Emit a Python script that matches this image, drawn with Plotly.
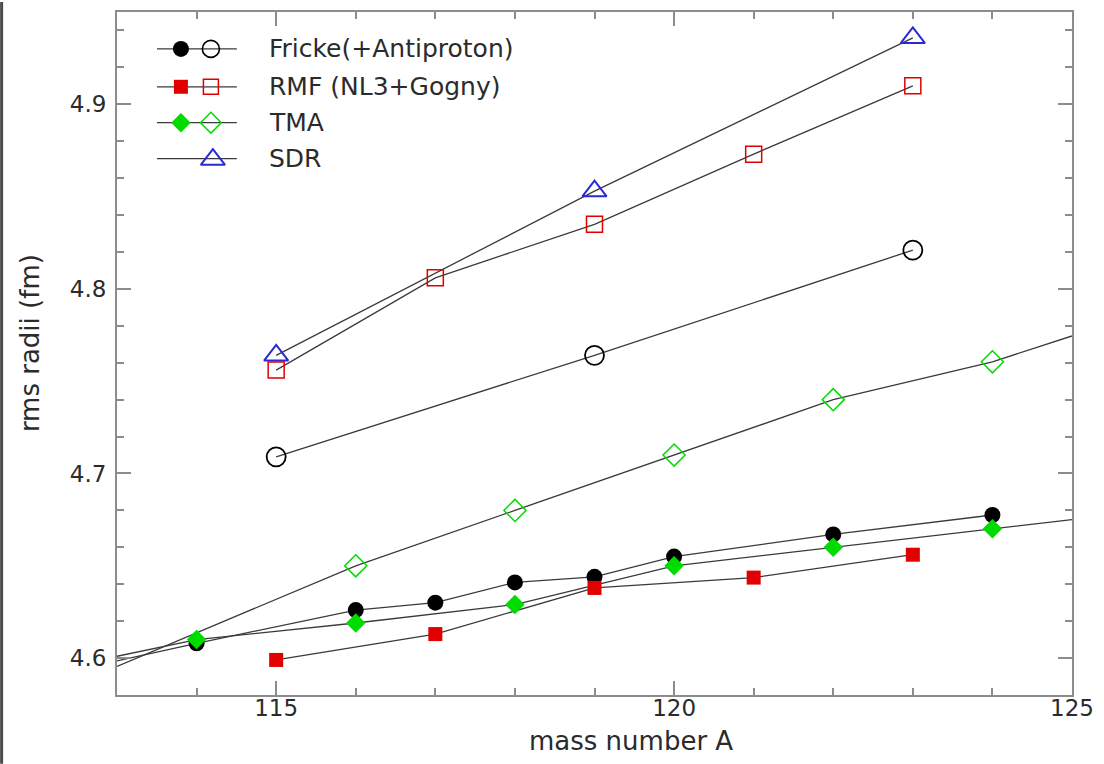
import plotly.graph_objects as go

# ---------------- data ----------------
# experimental radii (filled symbols)
A_fricke_exp = [114, 116, 117, 118, 119, 120, 122, 124]
r_fricke_exp = [4.608, 4.626, 4.630, 4.641, 4.644, 4.655, 4.667, 4.6775]

A_rmf_exp = [115, 117, 119, 121, 123]
r_rmf_exp = [4.599, 4.613, 4.638, 4.6436, 4.656]

A_tma_exp = [114, 116, 118, 120, 122, 124]
r_tma_exp = [4.610, 4.619, 4.629, 4.650, 4.660, 4.670]

# theoretical radii (open symbols)
A_fricke_th = [115, 119, 123]
r_fricke_th = [4.709, 4.764, 4.821]

A_rmf_th = [115, 117, 119, 121, 123]
r_rmf_th = [4.756, 4.806, 4.835, 4.873, 4.910]

A_tma_th = [116, 118, 120, 122, 124]
r_tma_th = [4.650, 4.680, 4.710, 4.740, 4.7605]

A_sdr = [115, 119, 123]
r_sdr = [4.764, 4.853, 4.936]

# where some connecting lines leave the frame (read at the axis edges)
A_left_edge = 113
A_right_edge = 125
r_fricke_exp_left = 4.5985
r_tma_exp_left = 4.601
r_tma_exp_right = 4.675
r_tma_th_left = 4.5955
r_tma_th_right = 4.7745

legend_labels = ["Fricke(+Antiproton)", "RMF (NL3+Gogny)", "TMA", "SDR"]
x_ticks = [115, 120, 125]
y_ticks = [4.6, 4.7, 4.8, 4.9]

# ---------------- styling ----------------
FONT = "DejaVu Sans"
TXT = "#2b2b2b"
LINE = "#3a3a3a"
AXC = "#8c8c8c"
BLACK = "#000000"
RED = "#e00000"
GREEN = "#00dc00"
BLUE = "#2a2ad2"

W, H = 1104, 764
ML, MR, MT, MB = 117, 31, 10, 69
PW, PH = W - ML - MR, H - MT - MB

fig = go.Figure()

def line_trace(x, y):
    fig.add_trace(go.Scatter(x=x, y=y, mode="lines", line=dict(color=LINE, width=1.3),
                             showlegend=False, hoverinfo="skip"))

# connecting lines
line_trace(A_fricke_th, r_fricke_th)
line_trace(A_rmf_th, r_rmf_th)
line_trace(A_sdr, r_sdr)
line_trace([A_left_edge] + A_tma_th + [A_right_edge], [r_tma_th_left] + r_tma_th + [r_tma_th_right])
line_trace([A_left_edge] + A_fricke_exp, [r_fricke_exp_left] + r_fricke_exp)
line_trace(A_rmf_exp, r_rmf_exp)
line_trace([A_left_edge] + A_tma_exp + [A_right_edge], [r_tma_exp_left] + r_tma_exp + [r_tma_exp_right])

def mk(x, y, symbol, color, size, lw=0, xa="x", ya="y"):
    fig.add_trace(go.Scatter(x=x, y=y, mode="markers", xaxis=xa, yaxis=ya,
                             marker=dict(symbol=symbol, color=color, size=size,
                                         line=dict(color=color, width=lw)),
                             showlegend=False, hoverinfo="skip"))

# open symbols
mk(A_fricke_th, r_fricke_th, "circle-open", BLACK, 19, 1.8)
mk(A_rmf_th, r_rmf_th, "square-open", RED, 16, 1.5)
mk(A_tma_th, r_tma_th, "diamond-open", GREEN, 17, 1.5)
mk(A_sdr, r_sdr, "triangle-up-open", BLUE, 21, 2)
# filled symbols
mk(A_fricke_exp, r_fricke_exp, "circle", BLACK, 16)
mk(A_rmf_exp, r_rmf_exp, "square", RED, 14)
mk(A_tma_exp, r_tma_exp, "diamond", GREEN, 15)

# ---------------- hand-drawn legend (overlay axes in pixel units) ----------------
rows = [37, 75, 111, 147]
seg = [40, 120]
x_fill, x_open = 64, 94
for yy in rows:
    fig.add_trace(go.Scatter(x=seg, y=[yy, yy], mode="lines", xaxis="x2", yaxis="y2",
                             line=dict(color=LINE, width=1.3), showlegend=False, hoverinfo="skip"))
mk([x_fill], [rows[0]], "circle", BLACK, 16, 0, "x2", "y2")
mk([x_open], [rows[0]], "circle-open", BLACK, 17, 1.6, "x2", "y2")
mk([x_fill], [rows[1]], "square", RED, 14, 0, "x2", "y2")
mk([x_open], [rows[1]], "square-open", RED, 15, 1.5, "x2", "y2")
mk([x_fill], [rows[2]], "diamond", GREEN, 15, 0, "x2", "y2")
mk([x_open], [rows[2]], "diamond-open", GREEN, 16, 1.5, "x2", "y2")
mk([x_open + 2], [rows[3] + 1], "triangle-up-open", BLUE, 21, 2, "x2", "y2")

annotations = []
for lab, yy in zip(legend_labels, rows):
    annotations.append(dict(x=150, y=yy, xref="x2", yref="y2", text=lab, showarrow=False,
                            xanchor="left", yanchor="middle",
                            font=dict(family=FONT, size=25, color=TXT)))
# axis titles
annotations.append(dict(x=(632 - ML) / PW, y=-(741 - MT - PH) / PH, xref="paper", yref="paper",
                        text="mass number A", showarrow=False, xanchor="center", yanchor="middle",
                        font=dict(family=FONT, size=26, color=TXT)))
annotations.append(dict(x=-(ML - 30) / PW, y=1 - (342 - MT) / PH, xref="paper", yref="paper",
                        text="rms radii (fm)", showarrow=False, textangle=-90,
                        xanchor="center", yanchor="middle",
                        font=dict(family=FONT, size=26, color=TXT)))

axis_common = dict(showgrid=False, zeroline=False, showline=True, linecolor=AXC, linewidth=2,
                   mirror="allticks", ticks="inside", ticklen=14, tickwidth=1.5, tickcolor=AXC,
                   tickfont=dict(family=FONT, size=23, color=TXT))

fig.update_layout(
    width=W, height=H,
    margin=dict(l=ML, r=MR, t=MT, b=MB, pad=0),
    paper_bgcolor="white", plot_bgcolor="white",
    showlegend=False,
    xaxis=dict(range=[113, 125], tickvals=x_ticks, ticktext=[str(v) for v in x_ticks],
               minor=dict(ticks="inside", dtick=1, tick0=113, ticklen=7, tickwidth=1.5,
                          tickcolor=AXC, showgrid=False),
               ticklabelstandoff=-9,
               **axis_common),
    yaxis=dict(range=[4.58, 4.95], tickvals=y_ticks, ticktext=[f"{v:.1f}" for v in y_ticks],
               minor=dict(ticks="inside", dtick=0.02, tick0=4.58, ticklen=7, tickwidth=1.5,
                          tickcolor=AXC, showgrid=False),
               ticklabelstandoff=4,
               **axis_common),
    xaxis2=dict(range=[0, PW], overlaying="x", visible=False, anchor="y2"),
    yaxis2=dict(range=[PH, 0], overlaying="y", visible=False, anchor="x2"),
    annotations=annotations,
    shapes=[dict(type="line", xref="paper", yref="paper",
                 x0=-(ML - 1.5) / PW, x1=-(ML - 1.5) / PW, y0=-MB / PH, y1=(PH + MT) / PH,
                 line=dict(color="#4a4a4a", width=3))],
)

fig.write_html("out.html")
